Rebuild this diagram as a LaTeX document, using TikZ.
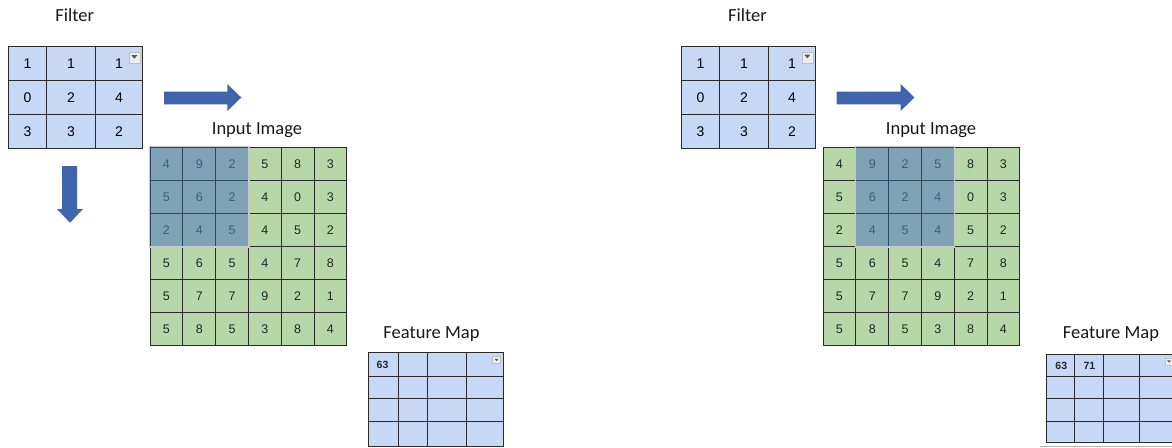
\documentclass[tikz,border=0pt]{standalone}
\usepackage{fontspec}
\setmainfont{Liberation Sans}
\newfontfamily\labelfont{Carlito}

\definecolor{filterblue}{HTML}{C6D8F6}
\definecolor{cellgreen}{HTML}{B7D7A8}
\definecolor{windowfill}{HTML}{7FA2B4}
\definecolor{windowtext}{HTML}{3E5E7C}
\definecolor{windowline}{HTML}{2E4862}
\definecolor{gridline}{HTML}{2A2A2A}
\definecolor{arrowblue}{HTML}{4164AE}

\tikzset{
  box/.style={draw=gridline, line width=1.1pt, inner sep=0pt, anchor=north west},
  filtercell/.style={box, fill=filterblue, font=\fontsize{14}{14}\selectfont},
  greencell/.style={box, fill=cellgreen, minimum width=32.8pt, minimum height=33pt,
    font=\fontsize{12.5}{12.5}\selectfont, text=black!85},
  wincell/.style={box, draw=windowline, fill=windowfill, minimum width=32.8pt,
    minimum height=33pt, font=\fontsize{12.5}{12.5}\selectfont, text=windowtext},
  winborder/.style={draw=black!22, line width=1.2pt},
  mapcell/.style={box, fill=filterblue},
  mapvalue/.style={anchor=west, inner sep=0pt, font=\fontsize{10.5}{10.5}\selectfont\bfseries, text=black!85},
  title/.style={anchor=base, inner sep=0pt, font=\labelfont\fontsize{18.5}{18.5}\selectfont, text=black!90},
  blockarrow/.style={fill=arrowblue},
  ddbox/.style={draw=black!25, fill=black!7, line width=0.5pt, inner sep=0pt},
  ddtri/.style={fill=black!65}
}

% 3x3 filter; #1 = name prefix
\newcommand\drawfilter[1]{%
  \foreach \r/\y/\h/\va/\vb/\vc in {0/45.7/34.3/1/1/1, 1/80/34/0/2/4, 2/114/34/3/3/2}{
    \foreach \c/\x/\w/\v in {0/8/38/\va, 1/46/49/\vb, 2/95/47/\vc}{
      \node[filtercell, minimum width=\w pt, minimum height=\h pt] (#1-\r-\c) at (\x,\y) {\v};
    }
  }
}

% 6x6 input image; #1 = name prefix, #2 = first column of the 3x3 window
\newcommand\drawinput[2]{%
  \foreach [count=\r from 0] \rowv in {{4,9,2,5,8,3},{5,6,2,4,0,3},{2,4,5,4,5,2},
                                       {5,6,5,4,7,8},{5,7,7,9,2,1},{5,8,5,3,8,4}}{
    \foreach [count=\c from 0] \v in \rowv {
      \pgfmathtruncatemacro\inwin{(\c>=#2)&&(\c<=#2+2)&&(\r<=2)}
      \ifnum\inwin=1
        \node[wincell] (#1-\r-\c) at ({149.5+32.8*\c},{146.8+33*\r}) {\v};
      \else
        \node[greencell] (#1-\r-\c) at ({149.5+32.8*\c},{146.8+33*\r}) {\v};
      \fi
    }
  }
}

\begin{document}
\begin{tikzpicture}[x=1pt, y=-1pt]
  \fill[white] (0,0) rectangle (1172,447);
  \useasboundingbox (0,0) rectangle (1172,447);
  \clip (0,0) rectangle (1172,447);

  % ---------- first step ----------
  \node[title] (fL-title) at (74.7,21) {Filter};
  \drawfilter{fL}
  \node[ddbox, minimum width=11pt, minimum height=11pt] (fL-dd) at (134.3,57.8) {};
  \fill[ddtri] ([shift={(-3,-2.6)}]fL-dd.center) -- ++(6,0) -- ++(-3,3.6) -- cycle;

  \fill[blockarrow] (164,91.7) -- (227.3,91.7) -- (227.3,84) -- (241.3,97.5)
    -- (227.3,111) -- (227.3,104.3) -- (164,104.3) -- cycle;
  \fill[blockarrow] (62,166) -- (77,166) -- (77,209) -- (83,209) -- (70,222.7)
    -- (57,209) -- (62,209) -- cycle;

  \node[title] (iL-title) at (257,134) {Input Image};
  \drawinput{iL}{0}
  \draw[winborder] (iL-0-0.north west) rectangle (iL-2-2.south east);

  \node[title] (mL-title) at (431.5,338.5) {Feature Map};
  \foreach \r/\y/\h in {0/352.3/23.4, 1/375.7/22.6, 2/398.3/22.4, 3/420.7/25.3}{
    \foreach \c/\x/\w in {0/368/29.7, 1/397.7/29.3, 2/427/38.7, 3/465.7/37.3}{
      \node[mapcell, minimum width=\w pt, minimum height=\h pt] (mL-\r-\c) at (\x,\y) {};
    }
  }
  \node[mapvalue] (mL-v00) at ([xshift=8.5pt]mL-0-0.west) {63};
  \node[ddbox, minimum width=8pt, minimum height=7pt] (mL-dd) at (496.5,360) {};
  \fill[ddtri] ([shift={(-2,-1.2)}]mL-dd.center) -- ++(4,0) -- ++(-2,2.4) -- cycle;

  % ---------- second step ----------
  \begin{scope}[xshift=673pt]
    \node[title] (fR-title) at (74.5,21) {Filter};
    \drawfilter{fR}
    \node[ddbox, minimum width=11pt, minimum height=11pt] (fR-dd) at (134.3,57.3) {};
    \fill[ddtri] ([shift={(-3,-2.6)}]fR-dd.center) -- ++(6,0) -- ++(-3,3.6) -- cycle;

    \fill[blockarrow] (163.7,91.7) -- (227.7,91.7) -- (227.7,84) -- (241.3,97.5)
      -- (227.7,111) -- (227.7,104.3) -- (163.7,104.3) -- cycle;

    \node[title] (iR-title) at (258,134) {Input Image};
    \drawinput{iR}{1}
    \draw[winborder] (iR-0-1.north west) rectangle (iR-2-3.south east);
  \end{scope}

  \node[title] (mR-title) at (1111,338.5) {Feature Map};
  \foreach \r/\y/\h in {0/354/22, 1/376/22, 2/398/22.7, 3/420.7/21.3}{
    \foreach \c/\x/\w in {0/1045.7/28.3, 1/1074/28.7, 2/1102.7/36.3, 3/1139/38}{
      \node[mapcell, minimum width=\w pt, minimum height=\h pt] (mR-\r-\c) at (\x,\y) {};
    }
  }
  \node[mapvalue] (mR-v00) at ([xshift=9.5pt]mR-0-0.west) {63};
  \node[mapvalue] (mR-v01) at ([xshift=9.3pt]mR-0-1.west) {71};
  \node[ddbox, minimum width=8pt, minimum height=7pt] (mR-dd) at (1169,361.5) {};
  \fill[ddtri] ([shift={(-2,-1.2)}]mR-dd.center) -- ++(4,0) -- ++(-2,2.4) -- cycle;
  \coordinate (mR-rule-a) at (1040,446);
  \coordinate (mR-rule-b) at (1172,446);
  \draw[black!30, line width=1pt] (mR-rule-a) -- (mR-rule-b);
\end{tikzpicture}
\end{document}
